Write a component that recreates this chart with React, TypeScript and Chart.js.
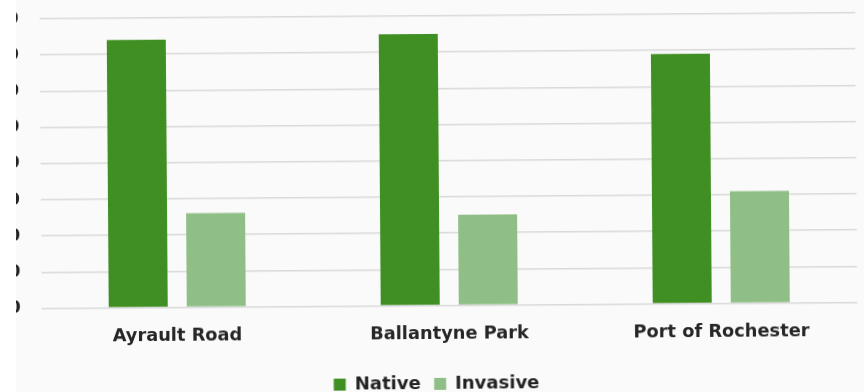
import React, { useEffect, useRef } from "react";
import { Chart, registerables } from "chart.js";

Chart.register(...registerables);

const categories = ["Ayrault Road", "Ballantyne Park", "Port of Rochester"];
const seriesNames = ["Native", "Invasive"];
const nativeValues = [74, 75, 69];
const invasiveValues = [26, 25, 31];
const yMin = 0;
const yMax = 80;
const yStep = 10;

const FONT = "'DejaVu Sans', 'Liberation Sans', Arial, sans-serif";

const legendShift = {
  id: "legendShift",
  afterLayout(chart: any) {
    const l = chart.legend;
    if (l) {
      l.left += 14;
      l.right += 14;
      if (l.legendHitBoxes) l.legendHitBoxes.forEach((b: any) => (b.left += 14));
    }
  },
};

export default function App() {
  const ref = useRef<HTMLCanvasElement | null>(null);

  useEffect(() => {
    document.body.style.margin = "0";
    const canvas = ref.current;
    if (!canvas) return;
    const chart = new Chart(canvas, {
      type: "bar",
      data: {
        labels: categories,
        datasets: [
          {
            label: seriesNames[0],
            data: nativeValues,
            backgroundColor: "#3f8f23",
            borderWidth: 0,
          },
          {
            label: seriesNames[1],
            data: invasiveValues,
            backgroundColor: "#8fbf86",
            borderWidth: 0,
          },
        ],
      },
      options: {
        animation: false,
        responsive: false,
        devicePixelRatio: 1,
        layout: { padding: { top: 16, right: 7.5, left: 0, bottom: 1 } },
        datasets: {
          bar: { categoryPercentage: 0.574, barPercentage: 0.756 },
        },
        plugins: {
          tooltip: { enabled: false },
          legend: {
            position: "bottom",
            labels: {
              boxWidth: 12,
              boxHeight: 12,
              padding: 13.5,
              color: "#222",
              font: { family: FONT, size: 18, weight: "bold" },
            },
          },
        },
        scales: {
          x: {
            grid: { display: false, drawTicks: false },
            border: { display: false },
            ticks: {
              padding: 18.5,
              color: "#262626",
              font: { family: FONT, size: 17.8, weight: "bold" },
              maxRotation: 0,
            },
            afterFit: (axis: any) => {
              axis.height = 55.9;
            },
          },
          y: {
            min: yMin,
            max: yMax,
            ticks: {
              stepSize: yStep,
              padding: 20.5,
              color: "#222",
              font: { family: FONT, size: 18, weight: "bold" },
            },
            grid: { color: "#d9d9d9", lineWidth: 1.5, drawTicks: false },
            border: { display: false },
            afterFit: (axis: any) => {
              axis.width = 54.5;
              axis.paddingTop = 0;
              axis.paddingBottom = 0;
            },
          },
        },
      },
      plugins: [legendShift],
    });
    return () => chart.destroy();
  }, []);

  return (
    <div style={{ position: "relative", width: 864, height: 392, overflow: "hidden", background: "#ffffff" }}>
      <div style={{ position: "absolute", left: 16, top: 0, width: 848, height: 392, overflow: "hidden", background: "#fafafa" }}>
        <div style={{ position: "absolute", left: -30, top: 0, width: 878, height: 404, transform: "rotate(-0.42deg)", transformOrigin: "50% 50%" }}>
          <canvas ref={ref} width={878} height={404} style={{ display: "block" }} />
        </div>
      </div>
    </div>
  );
}
